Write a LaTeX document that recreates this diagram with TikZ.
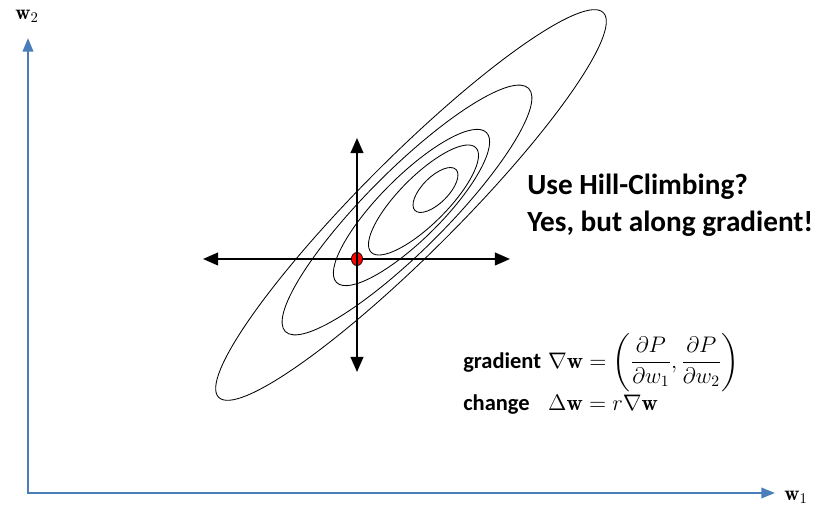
\documentclass[tikz,border=0pt]{standalone}
\usepackage{fix-cm}
\usepackage{amsmath}
\usepackage{fontspec}
\usetikzlibrary{arrows.meta,positioning,calc,shapes.geometric}
\newfontfamily\slidefont{Carlito}
\definecolor{axisblue}{HTML}{4A7EBB}
\definecolor{probered}{HTML}{FF0000}

\tikzset{
  contour/.style={black, line width=0.6pt},
  twoway/.style={black, line width=1.4pt, {Triangle[length=3.8mm,width=3.2mm]}-{Triangle[length=3.8mm,width=3.2mm]}},
  axisline/.style={axisblue, line width=1.6pt, {Triangle[length=3.4mm,width=2.6mm]}-{Triangle[length=3.4mm,width=2.6mm]}}
}

\begin{document}
\begin{tikzpicture}[font=\small, >=Latex]
  \useasboundingbox (-0.7,-0.5) rectangle (19.725,12.325);

  % axes
  \coordinate (O) at (0,0);
  \coordinate (w1end) at (18.675,0);
  \coordinate (w2end) at (0,11.375);
  \draw[axisline] (w2end) -- (O) -- (w1end);
  \node[font=\fontsize{15}{18}\selectfont] (w1) at (19.2,-0.1) {$\mathbf{w}_1$};
  \node[font=\fontsize{15}{18}\selectfont] (w2) at (-0.025,11.925) {$\mathbf{w}_2$};

  % level curves
  \draw[contour, rotate around={45:(9.575,7.2)}] (9.575,7.2) ellipse [x radius=6.8, y radius=1.2];
  \draw[contour, rotate around={45:(9.475,7.075)}] (9.475,7.075) ellipse [x radius=4.3, y radius=1.0];
  \draw[contour, rotate around={45:(9.5875,7.1375)}] (9.5875,7.1375) ellipse [x radius=2.65, y radius=0.78];
  \draw[contour, rotate around={45:(9.8875,7.325)}] (9.8875,7.325) ellipse [x radius=1.85, y radius=0.6];
  \draw[contour, rotate around={45:(10.1875,7.575)}] (10.1875,7.575) ellipse [x radius=0.725, y radius=0.325];

  % current point and the two directions
  \coordinate (west) at (4.375,5.85);
  \coordinate (east) at (12.05,5.85);
  \coordinate (north) at (8.225,8.875);
  \coordinate (south) at (8.225,3.025);
  \draw[twoway] (west) -- (east);
  \node[draw=black, fill=probered, ellipse, line width=0.5pt, inner sep=0pt, minimum width=0.28cm, minimum height=0.33cm] (p) at (8.225,5.85) {};
  \draw[twoway] (north) -- (south);

  \node[anchor=west, align=left, inner sep=0pt, font=\slidefont\fontsize{20.8}{26}\selectfont\bfseries] (question) at (12.475,7.2)
    {Use Hill-Climbing?\\Yes, but along gradient!};

  \node[anchor=base west, inner sep=0pt, font=\fontsize{16}{19}\selectfont] (update) at (10.875,3.12)
    {\begin{tabular}[t]{@{}l@{\hspace{5pt}}l@{}}
      {\slidefont\bfseries gradient} & $\nabla\mathbf{w}=\left(\dfrac{\partial P}{\partial w_1},\dfrac{\partial P}{\partial w_2}\right)$\\[2pt]
      {\slidefont\bfseries change} & $\Delta\mathbf{w}=r\nabla\mathbf{w}$
    \end{tabular}};
\end{tikzpicture}
\end{document}
